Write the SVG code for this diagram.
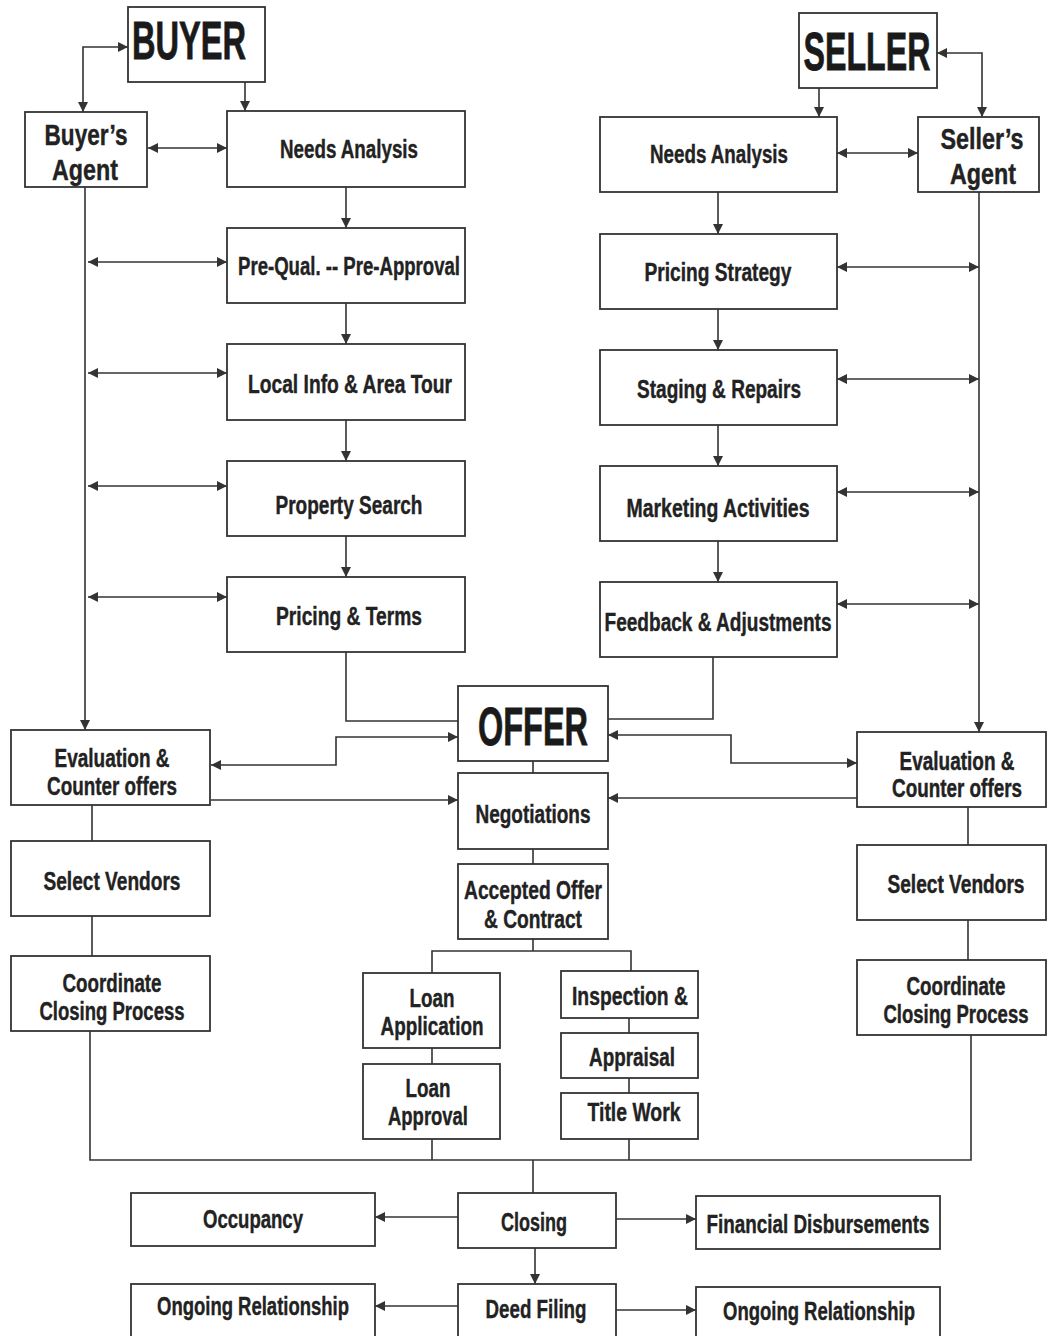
<svg xmlns="http://www.w3.org/2000/svg" width="1047" height="1336" viewBox="0 0 1047 1336">
<style>
.box{fill:#fff;stroke:#333;stroke-width:1.8}
.t{font-family:"Liberation Sans",Arial,sans-serif;font-weight:bold;font-size:26px;fill:#222;stroke:#222;stroke-width:0.4;text-anchor:middle}
.a{font-size:30px}
.n{font-size:20px;stroke-width:0.35}
.na{font-size:23px;stroke-width:0.35}
.big{font-size:54px;fill:#1a1a1a;stroke:#1a1a1a;stroke-width:0.8}
.c path{fill:none;stroke:#333;stroke-width:1.6}
.e{marker-end:url(#ah)}
.b{marker-start:url(#ah);marker-end:url(#ah)}
</style>
<defs>
<marker id="ah" viewBox="0 0 10 10" refX="10" refY="5" markerWidth="11" markerHeight="10" markerUnits="userSpaceOnUse" orient="auto-start-reverse"><path d="M0,0 L10,5 L0,10 z" fill="#333"/></marker>
</defs>
<rect width="1047" height="1336" fill="#fff"/>
<g class="c" id="connectors">
<path class="b" d="M83,112 V47 H128"/>
<path class="e" d="M245,82 V111"/>
<path class="b" d="M148,148 H227"/>
<path class="e" d="M85,187 V730"/>
<path class="e" d="M346,187 V228"/>
<path class="e" d="M346,303 V344"/>
<path class="e" d="M346,420 V461"/>
<path class="e" d="M346,536 V577"/>
<path class="b" d="M88,262 H227"/>
<path class="b" d="M88,373 H227"/>
<path class="b" d="M88,486 H227"/>
<path class="b" d="M88,597 H227"/>
<path d="M346,652 V721 H458"/>
<path class="b" d="M211,765 H336 V737 H458"/>
<path class="e" d="M211,800 H458"/>
<path d="M533,761 V773"/>
<path d="M533,849 V864"/>
<path d="M533,939 V951"/>
<path d="M432,973 V951 H631 V971"/>
<path d="M92,805 V841"/>
<path d="M92,916 V956"/>
<path d="M90,1031 V1160 H971 V1035"/>
<path d="M432,1048 V1064"/>
<path d="M432,1139 V1160"/>
<path d="M629,1018 V1033"/>
<path d="M629,1078 V1093"/>
<path d="M629,1139 V1160"/>
<path d="M533,1160 V1193"/>
<path class="e" d="M458,1217 H375"/>
<path class="e" d="M616,1219 H696"/>
<path class="e" d="M535,1248 V1284"/>
<path class="e" d="M458,1306 H375"/>
<path class="e" d="M616,1310 H696"/>
<path class="e" d="M819,88 V117"/>
<path class="b" d="M937,53 H982 V117"/>
<path class="b" d="M837,153 H918"/>
<path class="e" d="M718,192 V234"/>
<path class="e" d="M718,309 V350"/>
<path class="e" d="M718,425 V466"/>
<path class="e" d="M718,541 V582"/>
<path class="b" d="M837,267 H979"/>
<path class="b" d="M837,379 H979"/>
<path class="b" d="M837,492 H979"/>
<path class="b" d="M837,604 H979"/>
<path class="e" d="M979,192 V732"/>
<path d="M713,657 V719 H608"/>
<path class="b" d="M608,735 H731 V763 H857"/>
<path class="e" d="M857,798 H608"/>
<path d="M968,807 V845"/>
<path d="M968,920 V960"/>
</g>
<g id="buyer"><rect class="box" x="128" y="7" width="137" height="75"/><text class="t big" x="189" y="59" textLength="114" lengthAdjust="spacingAndGlyphs">BUYER</text></g>
<g id="buyers-agent"><rect class="box" x="25" y="112" width="122" height="75"/><text class="t a" x="86" y="145" textLength="83" lengthAdjust="spacingAndGlyphs">Buyer’s</text><text class="t a" x="85" y="180" textLength="66" lengthAdjust="spacingAndGlyphs">Agent</text></g>
<g id="needs-buyer"><rect class="box" x="227" y="111" width="238" height="76"/><text class="t" x="349" y="158" textLength="138" lengthAdjust="spacingAndGlyphs">Needs Analysis</text></g>
<g id="prequal"><rect class="box" x="227" y="228" width="238" height="75"/><text class="t" x="349" y="275" textLength="222" lengthAdjust="spacingAndGlyphs">Pre-Qual. -- Pre-Approval</text></g>
<g id="local"><rect class="box" x="227" y="344" width="238" height="76"/><text class="t" x="350" y="393" textLength="204" lengthAdjust="spacingAndGlyphs">Local Info &amp; Area Tour</text></g>
<g id="property"><rect class="box" x="227" y="461" width="238" height="75"/><text class="t" x="349" y="514" textLength="147" lengthAdjust="spacingAndGlyphs">Property Search</text></g>
<g id="pricing-terms"><rect class="box" x="227" y="577" width="238" height="75"/><text class="t" x="349" y="625" textLength="146" lengthAdjust="spacingAndGlyphs">Pricing &amp; Terms</text></g>
<g id="seller"><rect class="box" x="799" y="13" width="138" height="75"/><text class="t big" x="867" y="70" textLength="127" lengthAdjust="spacingAndGlyphs">SELLER</text></g>
<g id="sellers-agent"><rect class="box" x="918" y="117" width="121" height="75"/><text class="t na" transform="translate(982,149) scale(1,1.3)" textLength="83" lengthAdjust="spacingAndGlyphs">Seller’s</text><text class="t na" transform="translate(983,184) scale(1,1.3)" textLength="66" lengthAdjust="spacingAndGlyphs">Agent</text></g>
<g id="needs-seller"><rect class="box" x="600" y="117" width="237" height="75"/><text class="t" x="719" y="163" textLength="138" lengthAdjust="spacingAndGlyphs">Needs Analysis</text></g>
<g id="pricing-strategy"><rect class="box" x="600" y="234" width="237" height="75"/><text class="t" x="718" y="281" textLength="147" lengthAdjust="spacingAndGlyphs">Pricing Strategy</text></g>
<g id="staging"><rect class="box" x="600" y="350" width="237" height="75"/><text class="t" x="719" y="398" textLength="164" lengthAdjust="spacingAndGlyphs">Staging &amp; Repairs</text></g>
<g id="marketing"><rect class="box" x="600" y="466" width="237" height="75"/><text class="t" x="718" y="517" textLength="183" lengthAdjust="spacingAndGlyphs">Marketing Activities</text></g>
<g id="feedback"><rect class="box" x="600" y="582" width="237" height="75"/><text class="t" x="718" y="631" textLength="227" lengthAdjust="spacingAndGlyphs">Feedback &amp; Adjustments</text></g>
<g id="offer"><rect class="box" x="458" y="686" width="150" height="75"/><text class="t big" x="533" y="745" textLength="110" lengthAdjust="spacingAndGlyphs">OFFER</text></g>
<g id="negotiations"><rect class="box" x="458" y="773" width="150" height="76"/><text class="t" x="533" y="823" textLength="115" lengthAdjust="spacingAndGlyphs">Negotiations</text></g>
<g id="accepted"><rect class="box" x="458" y="864" width="150" height="75"/><text class="t" x="533" y="899" textLength="138" lengthAdjust="spacingAndGlyphs">Accepted Offer</text><text class="t" x="533" y="928" textLength="98" lengthAdjust="spacingAndGlyphs">&amp; Contract</text></g>
<g id="eval-buyer"><rect class="box" x="11" y="730" width="199" height="75"/><text class="t" x="112" y="767" textLength="115" lengthAdjust="spacingAndGlyphs">Evaluation &amp;</text><text class="t" x="112" y="795" textLength="130" lengthAdjust="spacingAndGlyphs">Counter offers</text></g>
<g id="vendors-buyer"><rect class="box" x="11" y="841" width="199" height="75"/><text class="t" x="112" y="890" textLength="137" lengthAdjust="spacingAndGlyphs">Select Vendors</text></g>
<g id="coord-buyer"><rect class="box" x="11" y="956" width="199" height="75"/><text class="t" x="112" y="992" textLength="99" lengthAdjust="spacingAndGlyphs">Coordinate</text><text class="t" x="112" y="1020" textLength="145" lengthAdjust="spacingAndGlyphs">Closing Process</text></g>
<g id="eval-seller"><rect class="box" x="857" y="732" width="189" height="75"/><text class="t n" transform="translate(957,770) scale(1,1.3)" textLength="115" lengthAdjust="spacingAndGlyphs">Evaluation &amp;</text><text class="t n" transform="translate(957,797) scale(1,1.3)" textLength="130" lengthAdjust="spacingAndGlyphs">Counter offers</text></g>
<g id="vendors-seller"><rect class="box" x="857" y="845" width="189" height="75"/><text class="t n" transform="translate(956,893) scale(1,1.3)" textLength="137" lengthAdjust="spacingAndGlyphs">Select Vendors</text></g>
<g id="coord-seller"><rect class="box" x="857" y="960" width="189" height="75"/><text class="t n" transform="translate(956,995) scale(1,1.3)" textLength="99" lengthAdjust="spacingAndGlyphs">Coordinate</text><text class="t n" transform="translate(956,1023) scale(1,1.3)" textLength="145" lengthAdjust="spacingAndGlyphs">Closing Process</text></g>
<g id="loan-app"><rect class="box" x="363" y="973" width="137" height="75"/><text class="t" x="432" y="1007" textLength="45" lengthAdjust="spacingAndGlyphs">Loan</text><text class="t" x="432" y="1035" textLength="103" lengthAdjust="spacingAndGlyphs">Application</text></g>
<g id="loan-approval"><rect class="box" x="363" y="1064" width="137" height="75"/><text class="t" x="428" y="1097" textLength="45" lengthAdjust="spacingAndGlyphs">Loan</text><text class="t" x="428" y="1125" textLength="80" lengthAdjust="spacingAndGlyphs">Approval</text></g>
<g id="inspection"><rect class="box" x="561" y="971" width="137" height="47"/><text class="t" x="630" y="1005" textLength="116" lengthAdjust="spacingAndGlyphs">Inspection &amp;</text></g>
<g id="appraisal"><rect class="box" x="561" y="1033" width="137" height="45"/><text class="t" x="632" y="1066" textLength="86" lengthAdjust="spacingAndGlyphs">Appraisal</text></g>
<g id="title"><rect class="box" x="561" y="1093" width="137" height="46"/><text class="t" x="634" y="1121" textLength="93" lengthAdjust="spacingAndGlyphs">Title Work</text></g>
<g id="closing"><rect class="box" x="458" y="1193" width="158" height="55"/><text class="t" x="534" y="1231" textLength="66" lengthAdjust="spacingAndGlyphs">Closing</text></g>
<g id="occupancy"><rect class="box" x="131" y="1193" width="244" height="53"/><text class="t" x="253" y="1228" textLength="100" lengthAdjust="spacingAndGlyphs">Occupancy</text></g>
<g id="financial"><rect class="box" x="696" y="1196" width="244" height="53"/><text class="t" x="818" y="1233" textLength="223" lengthAdjust="spacingAndGlyphs">Financial Disbursements</text></g>
<g id="deed"><rect class="box" x="458" y="1284" width="158" height="56"/><text class="t" x="536" y="1318" textLength="101" lengthAdjust="spacingAndGlyphs">Deed Filing</text></g>
<g id="ongoing-left"><rect class="box" x="131" y="1284" width="244" height="56"/><text class="t" x="253" y="1315" textLength="192" lengthAdjust="spacingAndGlyphs">Ongoing Relationship</text></g>
<g id="ongoing-right"><rect class="box" x="696" y="1287" width="244" height="53"/><text class="t" x="819" y="1320" textLength="192" lengthAdjust="spacingAndGlyphs">Ongoing Relationship</text></g>
</svg>
